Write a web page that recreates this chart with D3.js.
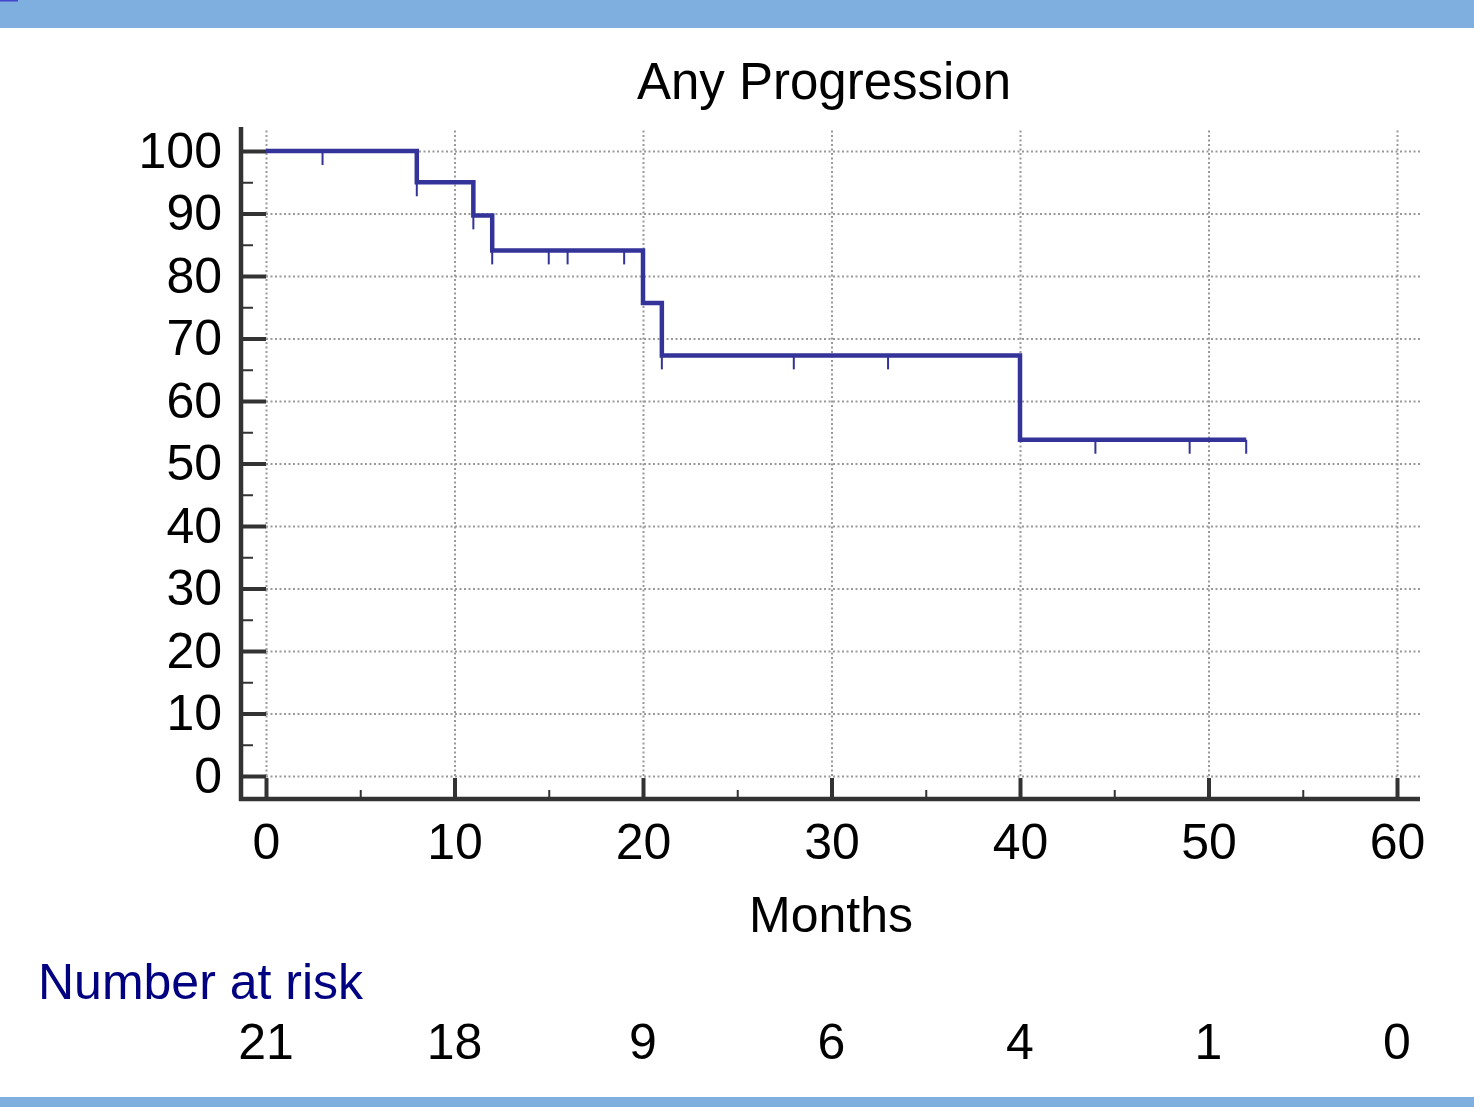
<!DOCTYPE html>
<html>
<head>
    <meta charset="utf-8">
    <title>Any Progression</title>
    <style>
        body {
            margin: 0;
            background: #fff;
        }

        text {
            font-family: 'Liberation Sans', Arial, sans-serif;
        }

        .grid line {
            stroke: #999;
            stroke-width: 2;
            stroke-dasharray: 2, 2.5;
        }

        .grid path {
            stroke-width: 0;
        }

        .axis path {
            display: none;
        }

        .axis line {
            stroke: #333;
        }

        .axis text {
            font-size: 50px;
            fill: #000;
        }
    </style>
    <script src="https://d3js.org/d3.v7.min.js"></script>
</head>
<body>
    <script>
        "use strict";
        // survival curve (percent)
        const eventTimes = [0, 8, 11, 12, 20, 21, 40];
        const survival = [100, 95, 89.7, 84.1, 75.7, 67.3, 53.8];
        const endTime = 52;
        const censorTimes = [3, 8, 11, 12, 15, 16, 19, 21, 28, 33, 44, 49, 52];

        const xTicks = [0, 10, 20, 30, 40, 50, 60];
        const xMinor = [5, 15, 25, 35, 45, 55];
        const yTicks = [0, 10, 20, 30, 40, 50, 60, 70, 80, 90, 100];
        const yMinor = [5, 15, 25, 35, 45, 55, 65, 75, 85, 95];
        const atRisk = [21, 18, 9, 6, 4, 1, 0];

        const W = 1474, H = 1107;
        const axisX = 241, axisY = 799, plotTop = 128, plotRight = 1420;

        const x = d3.scaleLinear().domain([0, 60]).range([266, 1397]);
        const y = d3.scaleLinear().domain([0, 100]).range([776, 151]);

        const svg = d3.select("body").append("svg")
            .attr("width", W)
            .attr("height", H);

        // frame bars
        svg.append("rect").attr("x", 0).attr("y", 0).attr("width", W).attr("height", 28).attr("fill", "#7eafdf");
        svg.append("rect").attr("x", 0).attr("y", 0).attr("width", 18).attr("height", 1.5).attr("fill", "#4444cc");
        svg.append("rect").attr("x", 0).attr("y", 1097).attr("width", W).attr("height", 10).attr("fill", "#7eafdf");

        // grid
        svg.append("g")
            .attr("class", "grid")
            .attr("transform", "translate(266,0)")
            .call(d3.axisLeft(y).tickValues(yTicks).tickSize(-(plotRight - 266)).tickFormat(""));
        svg.append("g")
            .attr("class", "grid")
            .attr("transform", "translate(0," + y(0) + ")")
            .call(d3.axisBottom(x).tickValues(xTicks).tickSize(-(y(0) - plotTop)).tickFormat(""));

        // y axis
        svg.append("g")
            .attr("class", "axis")
            .attr("transform", "translate(266,0)")
            .call(d3.axisLeft(y).tickValues(yTicks).tickSize(25).tickPadding(19))
            .selectAll("line").attr("stroke-width", 4);
        svg.append("g")
            .attr("class", "axis")
            .attr("transform", "translate(" + axisX + ",0)")
            .call(d3.axisRight(y).tickValues(yMinor).tickSize(12).tickFormat(""))
            .selectAll("line").attr("stroke-width", 2);

        // x axis
        svg.append("g")
            .attr("class", "axis")
            .attr("transform", "translate(0,778)")
            .call(d3.axisBottom(x).tickValues(xTicks).tickSize(21).tickPadding(24))
            .selectAll("line").attr("stroke-width", 4);
        svg.append("g")
            .attr("class", "axis")
            .attr("transform", "translate(0," + axisY + ")")
            .call(d3.axisTop(x).tickValues(xMinor).tickSize(9).tickFormat(""))
            .selectAll("line").attr("stroke-width", 2);

        // axis lines
        svg.append("line")
            .attr("x1", axisX).attr("x2", axisX)
            .attr("y1", plotTop - 1).attr("y2", axisY + 2)
            .attr("stroke", "#333").attr("stroke-width", 4.5);
        svg.append("line")
            .attr("x1", axisX - 2).attr("x2", plotRight)
            .attr("y1", axisY).attr("y2", axisY)
            .attr("stroke", "#333").attr("stroke-width", 4.5);

        // survival step line
        const points = eventTimes.map((t, i) => [t, survival[i]]);
        points.push([endTime, survival[survival.length - 1]]);
        const line = d3.line()
            .curve(d3.curveStepAfter)
            .x(d => x(d[0]))
            .y(d => y(d[1]));
        svg.append("path")
            .datum(points)
            .attr("d", line)
            .attr("fill", "none")
            .attr("stroke", "#333399")
            .attr("stroke-width", 4.5);

        // censor marks
        function level(t) {
            return survival[d3.bisectRight(eventTimes, t) - 1];
        }
        svg.append("g")
            .selectAll("line")
            .data(censorTimes)
            .join("line")
            .attr("x1", d => x(d)).attr("x2", d => x(d))
            .attr("y1", d => y(level(d)))
            .attr("y2", d => y(level(d)) + 14)
            .attr("stroke", "#333399")
            .attr("stroke-width", 2);

        // titles
        svg.append("text")
            .attr("x", 824).attr("y", 99)
            .attr("text-anchor", "middle")
            .style("font-size", "51px")
            .text("Any Progression");
        svg.append("text")
            .attr("x", 831).attr("y", 932)
            .attr("text-anchor", "middle")
            .style("font-size", "50px")
            .text("Months");

        // number at risk
        svg.append("text")
            .attr("x", 38).attr("y", 999)
            .style("font-size", "50px")
            .attr("fill", "#000080")
            .text("Number at risk");
        svg.append("g")
            .selectAll("text")
            .data(atRisk)
            .join("text")
            .attr("x", (d, i) => x(xTicks[i]))
            .attr("y", 1059)
            .attr("text-anchor", "middle")
            .style("font-size", "50px")
            .text(d => d);
    </script>
</body>
</html>
